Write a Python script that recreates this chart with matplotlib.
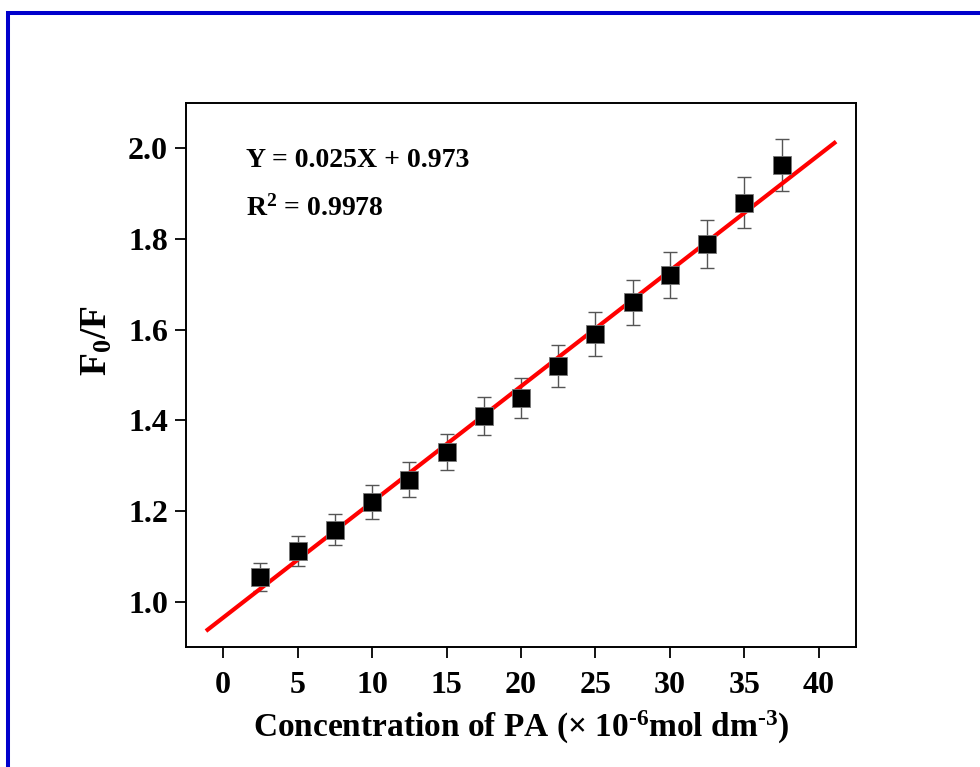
import matplotlib
matplotlib.use("Agg")
import matplotlib.pyplot as plt
from matplotlib.patches import Rectangle

# data
conc = [2.5, 5, 7.5, 10, 12.5, 15, 17.5, 20, 22.5, 25, 27.5, 30, 32.5, 35, 37.5]
ratio = [1.055, 1.112, 1.159, 1.22, 1.269, 1.33, 1.41, 1.45, 1.52, 1.59, 1.66, 1.72, 1.79, 1.88, 1.963]
err = [0.031, 0.033, 0.035, 0.037, 0.038, 0.04, 0.042, 0.044, 0.046, 0.048, 0.05, 0.051, 0.053, 0.056, 0.058]

# fitted line end points
fit_x = [-1.05, 41.05]
fit_y = [0.938, 2.012]

xticks = [0, 5, 10, 15, 20, 25, 30, 35, 40]
yticks = [1.0, 1.2, 1.4, 1.6, 1.8, 2.0]

plt.rcParams['font.family'] = ['Liberation Serif', 'DejaVu Serif']
plt.rcParams['font.weight'] = 'bold'
plt.rcParams['mathtext.fontset'] = 'custom'
plt.rcParams['mathtext.rm'] = 'Liberation Serif:bold'
plt.rcParams['mathtext.bf'] = 'Liberation Serif:bold'
plt.rcParams['mathtext.it'] = 'Liberation Serif:bold'
plt.rcParams['mathtext.default'] = 'rm'

fig = plt.figure(figsize=(9.8, 7.67), dpi=100)
ax = fig.add_axes([0.1898, 0.1565, 0.6837, 0.7092])

# blue frame round the picture
fig.add_artist(Rectangle((8/980, -0.2), 2, 1.2 - 13/767, transform=fig.transFigure,
                         fill=False, edgecolor='#0000cc', linewidth=2.9))

ax.plot(fit_x, fit_y, color='red', linewidth=3.0, zorder=2)
ax.errorbar(conc, ratio, yerr=err, fmt='none', ecolor='#555555', elinewidth=1.0,
            capsize=5, capthick=1.0, zorder=1)
ax.plot(conc, ratio, 's', color='black', markersize=12.5, markeredgecolor='#777777',
        markeredgewidth=0.6, zorder=3)

ax.set_xlim(-2.5, 42.5)
ax.set_ylim(0.9, 2.1)
ax.set_xticks(xticks)
ax.set_yticks(yticks)
ax.set_xticklabels([str(t) for t in xticks])
ax.set_yticklabels(["%.1f" % t for t in yticks])
ax.tick_params(direction='out', length=8, width=1.3, labelsize=23, pad=5)
ax.tick_params(axis='x', pad=9)
for s in ax.spines.values():
    s.set_linewidth(1.4)

ax.set_xlabel(r'Concentration of PA ($\times$ 10$^{\text{-6}}$mol dm$^{\text{-3}}$)', fontsize=24,
              fontweight='bold', labelpad=7)
ax.set_ylabel(r'F$_0$/F', fontsize=27, fontweight='bold')
ax.yaxis.set_label_coords(-0.106, 0.5625)

ax.text(0.09, 0.895, 'Y = 0.025X + 0.973', transform=ax.transAxes, fontsize=20,
        fontweight='bold', va='center')
ax.text(0.09, 0.806, r'R$^2$ = 0.9978', transform=ax.transAxes, fontsize=20,
        fontweight='bold', va='center')

fig.savefig('out.png', dpi=100)
